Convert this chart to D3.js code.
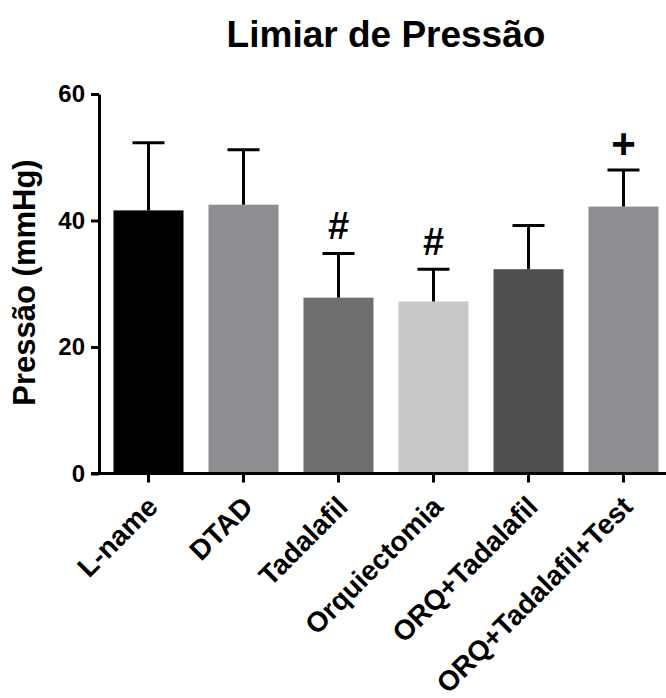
<!DOCTYPE html>
<html>
<head>
<meta charset="utf-8">
<script src="https://cdn.jsdelivr.net/npm/d3@7"></script>
<style>
  body { margin: 0; background: #fff; }
  svg { display: block; font-family: "Liberation Sans", Arial, sans-serif; }
</style>
</head>
<body>
<svg id="chart"></svg>
<script>
// data
let groups = ["L-name", "DTAD", "Tadalafil", "Orquiectomia", "ORQ+Tadalafil", "ORQ+Tadalafil+Test"];
let means = [41.6, 42.5, 27.8, 27.2, 32.3, 42.2];
let errs = [10.7, 8.7, 7.0, 5.1, 6.9, 5.8];
let marks = ["", "", "#", "#", "", "+"];
let barColors = ["#000000", "#8e8d92", "#6e6e6e", "#c9c9c9", "#4f4f4f", "#8e8d92"];
let yTicks = [0, 20, 40, 60];

let width = 666; let height = 698;
let axisX = 99; let axisY = 473.5;

let svg = d3.select("#chart")
  .attr("width", width)
  .attr("height", height);

// scales
let x = d3.scaleBand()
  .domain(groups)
  .range([101, 671])
  .paddingInner(0.263)
  .paddingOuter(0.1315);

let y = d3.scaleLinear()
  .domain([0, 60])
  .range([axisY, 94]);

// bars
svg.selectAll(".bar")
  .data(groups)
  .enter()
  .append("rect")
  .attr("class", "bar")
  .attr("x", d => x(d))
  .attr("y", (d, i) => y(means[i]))
  .attr("width", x.bandwidth())
  .attr("height", (d, i) => axisY - y(means[i]))
  .attr("fill", (d, i) => barColors[i]);

// error bars (upper only) + significance marks
let capW = 32;
groups.forEach(function(d, i) {
  let cx = x(d) + x.bandwidth() / 2;
  let top = y(means[i] + errs[i]);
  svg.append("line")
    .attr("x1", cx).attr("x2", cx)
    .attr("y1", y(means[i])).attr("y2", top)
    .attr("stroke", "#000").attr("stroke-width", 3);
  svg.append("line")
    .attr("x1", cx - capW / 2).attr("x2", cx + capW / 2)
    .attr("y1", top).attr("y2", top)
    .attr("stroke", "#000").attr("stroke-width", 3);
  if (marks[i] != "") {
    svg.append("text")
      .attr("x", cx)
      .attr("y", marks[i] == "+" ? top - 12 : top - 14)
      .attr("text-anchor", "middle")
      .attr("font-weight", "bold")
      .attr("font-size", marks[i] == "+" ? 42 : 38)
      .text(marks[i]);
  }
});

// y axis
let yAxis = d3.axisLeft(y)
  .tickValues(yTicks)
  .tickSize(8)
  .tickSizeOuter(0)
  .tickPadding(6);

let gy = svg.append("g")
  .attr("transform", "translate(" + axisX + ",0)")
  .call(yAxis);
gy.select(".domain").attr("stroke-width", 3);
gy.selectAll(".tick line").attr("stroke-width", 3);
gy.selectAll(".tick text")
  .attr("font-size", 24)
  .attr("font-weight", "bold")
  .attr("fill", "#000")
  .attr("font-family", "Liberation Sans, Arial, sans-serif");

// x axis
let xAxis = d3.axisBottom(x)
  .tickSize(9)
  .tickSizeOuter(0);

let gx = svg.append("g")
  .attr("transform", "translate(0," + axisY + ")")
  .call(xAxis);
gx.select(".domain").remove();
gx.append("line")
  .attr("x1", axisX - 8).attr("x2", width)
  .attr("y1", 0).attr("y2", 0)
  .attr("stroke", "#000").attr("stroke-width", 3);
gx.selectAll(".tick line").attr("stroke-width", 3);
gx.selectAll(".tick text")
  .attr("font-size", 28)
  .attr("font-weight", "bold")
  .attr("fill", "#000")
  .attr("font-family", "Liberation Sans, Arial, sans-serif")
  .attr("text-anchor", "end")
  .attr("x", 0).attr("y", 0)
  .attr("dy", "0.35em")
  .attr("transform", "translate(4,28) rotate(-45)");

// title and axis label
svg.append("text")
  .attr("x", 386)
  .attr("y", 47)
  .attr("text-anchor", "middle")
  .attr("font-size", 37)
  .attr("font-weight", "bold")
  .text("Limiar de Pressão");

svg.append("text")
  .attr("transform", "translate(35,282.5) rotate(-90)")
  .attr("text-anchor", "middle")
  .attr("font-size", 31)
  .attr("font-weight", "bold")
  .text("Pressão (mmHg)");
</script>
</body>
</html>
